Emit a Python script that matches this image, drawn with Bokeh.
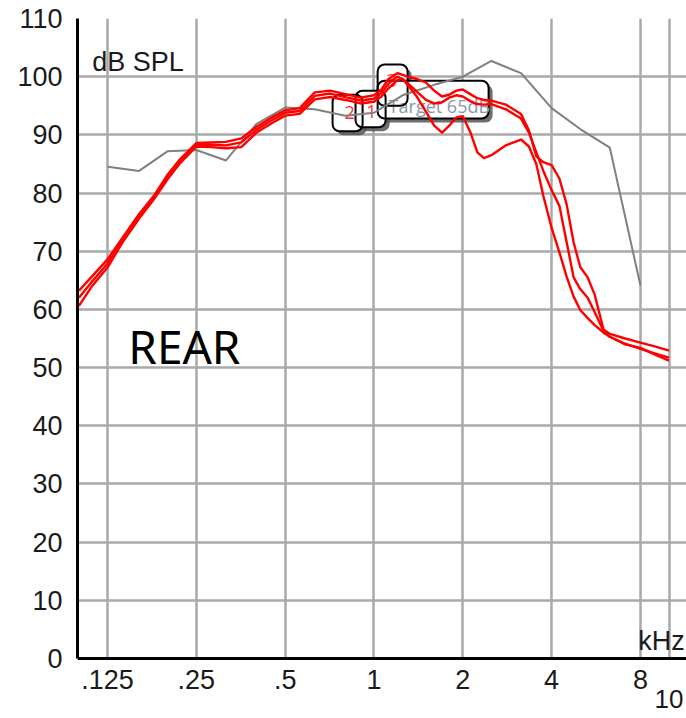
from bokeh.plotting import figure
from bokeh.models import FixedTicker, Label, BoxAnnotation, Range1d
from bokeh.embed import file_html
from bokeh.resources import INLINE

# ---------------- data ----------------
FREQ = [0.1, 0.11, 0.125, 0.14, 0.16, 0.18, 0.2, 0.22, 0.25, 0.28,
        0.315, 0.355, 0.4, 0.45, 0.5, 0.56, 0.63, 0.71, 0.8, 0.9,
        1.0, 1.06, 1.12, 1.2, 1.25, 1.32, 1.4, 1.5, 1.6, 1.7,
        1.8, 1.9, 2.0, 2.12, 2.24, 2.36, 2.5, 2.8, 3.15, 3.35,
        3.55, 3.75, 4.0, 4.25, 4.5, 4.75, 5.0, 5.3, 5.6, 6.0,
        6.3, 7.1, 8.0, 9.0, 10.0]

CURVE_1 = [63.2, 65.5, 68.6, 72.2, 76.4, 79.6, 83.2, 85.8, 88.6, 88.7,
           88.8, 89.4, 91.4, 93.0, 94.2, 94.6, 97.3, 97.6, 97.0, 96.4,
           96.8, 97.8, 99.6, 100.6, 100.3, 99.9, 99.6, 99.0, 97.6, 96.6,
           96.9, 97.6, 97.8, 97.0, 96.3, 96.0, 95.9, 95.2, 93.6, 90.8,
           86.3, 85.3, 84.8, 82.5, 78.0, 71.5, 67.3, 65.5, 62.5, 56.5,
           55.8, 55.0, 54.3, 53.6, 52.9]

CURVE_2 = [62.0, 64.6, 67.9, 71.8, 76.0, 79.3, 82.8, 85.5, 88.3, 88.3,
           88.2, 88.7, 90.9, 92.5, 93.8, 94.1, 96.7, 97.1, 96.5, 95.9,
           96.2, 97.2, 98.8, 100.0, 99.6, 98.6, 97.4, 96.0, 95.4, 95.6,
           96.4, 96.8, 96.6, 95.8, 95.3, 95.2, 95.3, 94.4, 92.8, 90.4,
           87.0, 83.8, 80.5, 77.8, 71.5, 65.5, 63.5, 62.0, 59.5, 56.3,
           55.3, 54.1, 53.2, 52.4, 51.7]

CURVE_3 = [60.6, 63.8, 67.2, 71.4, 75.6, 79.0, 82.4, 85.1, 88.0, 87.9,
           87.7, 87.9, 90.4, 92.0, 93.3, 93.6, 96.1, 96.5, 96.0, 95.4,
           95.7, 96.6, 98.0, 99.4, 99.6, 98.2, 96.5, 94.0, 91.6, 90.4,
           91.6, 93.0, 93.2, 90.5, 87.0, 86.0, 86.5, 88.2, 89.2, 88.0,
           85.0, 79.5, 74.0, 69.8, 65.6, 62.2, 59.9, 58.5, 57.3, 56.0,
           55.3, 54.0, 53.4, 52.2, 51.2]

TARGET_FREQ = [0.125, 0.16, 0.2, 0.25, 0.315, 0.4, 0.5, 0.63, 0.8, 1.0,
               1.25, 1.6, 2.0, 2.5, 3.15, 4.0, 5.0, 6.3, 8.0]
TARGET_DB = [84.5, 83.8, 87.2, 87.4, 85.6, 91.9, 94.7, 94.4, 93.3, 93.8,
             96.8, 98.6, 100.0, 102.7, 100.6, 94.6, 91.0, 87.8, 64.1]

X_TICKS = [0.125, 0.25, 0.5, 1, 2, 4, 8, 10]
X_TICK_LABELS = [".125", ".25", ".5", "1", "2", "4", "8", ""]
Y_TICKS = list(range(0, 111, 10))

# callout boxes: (text, colour, left, right, bottom, top, text_x, text_y)
CALLOUTS = [
    ("2", "#ff3030", 0.724, 0.915, 90.6, 96.9, 0.827, 93.8),
    ("1", "#ff3030", 0.866, 1.095, 91.3, 97.6, 0.981, 94.0),
    ("Target 65dB", "#8a96a8", 1.029, 2.446, 92.8, 99.3, 1.121, 95.0),
    ("3", "#ff3030", 1.029, 1.30, 95.0, 102.1, 1.147, 99.3),
]

# ---------------- figure ----------------
PX_OCT = 88.8
PX_DB = 5.818
Y_BOTTOM = -60 / PX_DB   # frame runs down to the canvas bottom; axis sits at 0 dB

p = figure(width=686, height=718, x_axis_type="log",
           x_range=Range1d(0.0989, 11.46), y_range=Range1d(Y_BOTTOM, 110),
           output_backend="svg", toolbar_location=None,
           min_border_left=77, min_border_right=0,
           min_border_top=18, min_border_bottom=0)
p.outline_line_color = None
p.background_fill_color = "white"
p.border_fill_color = "white"

FONT = "Liberation Sans"

xa = p.xaxis[0]
xa.ticker = FixedTicker(ticks=X_TICKS)
xa.major_label_overrides = {t: l for t, l in zip(X_TICKS, X_TICK_LABELS)}
xa.fixed_location = 0
ya = p.yaxis[0]
ya.ticker = FixedTicker(ticks=Y_TICKS)
ya.bounds = (0, 110)
for ax in (xa, ya):
    ax.axis_line_color = "black"
    ax.axis_line_width = 3
    ax.major_tick_line_color = None
    ax.minor_tick_line_color = None
    ax.major_tick_out = 0
    ax.major_tick_in = 0
    ax.major_label_text_font = FONT
    ax.major_label_text_font_size = "27px"
    ax.major_label_text_color = "#1a1a1a"
xa.major_label_standoff = 12
ya.major_label_standoff = 15

p.xgrid.ticker = FixedTicker(ticks=X_TICKS)
p.ygrid.ticker = FixedTicker(ticks=Y_TICKS)
for g in (p.xgrid[0], p.ygrid[0]):
    g.grid_line_color = "#a9a9a9"
    g.grid_line_width = 2.5

# white cover for the strip below the 0 dB axis (hides grid lines there)
p.add_layout(BoxAnnotation(top=0, fill_color="white", fill_alpha=1.0,
                           line_color=None, level="underlay"))

# callouts (under the curves, over the grid)
sx = 2 ** (4 / PX_OCT)
sy = 4 / PX_DB
for (_t, _c, l, r, b, t, _tx, _ty) in CALLOUTS:
    p.add_layout(BoxAnnotation(left=l * sx, right=r * sx, bottom=b - sy, top=t - sy,
                               fill_color="#555555", fill_alpha=0.85, line_color=None,
                               border_radius=7, level="underlay"))
for (_t, _c, l, r, b, t, _tx, _ty) in CALLOUTS:
    p.add_layout(BoxAnnotation(left=l, right=r, bottom=b, top=t,
                               fill_color="white", fill_alpha=1.0, line_color=None,
                               border_radius=7, level="underlay"))
for (txt, col, l, r, b, t, tx, ty) in CALLOUTS:
    p.add_layout(BoxAnnotation(left=l, right=r, bottom=b, top=t,
                               fill_color=None, fill_alpha=0, line_color="black",
                               line_alpha=1.0, line_width=2, border_radius=7,
                               level="underlay"))
    p.add_layout(Label(x=tx, y=ty, text=txt, text_color=col,
                       text_font="Open Sans", text_font_size="18px",
                       text_align="left" if len(txt) > 1 else "center",
                       text_baseline="alphabetic" if len(txt) > 1 else "middle",
                       level="underlay"))

# curves
p.line(TARGET_FREQ, TARGET_DB, line_color="#808080", line_width=2)
for c in (CURVE_1, CURVE_2, CURVE_3):
    p.line(FREQ, c, line_color="#ff0000", line_width=2.4, line_join="round")

# texts
p.add_layout(Label(x=0.111, y=102.5, text="dB SPL", text_font=FONT,
                   text_font_size="27px", text_color="#1a1a1a",
                   text_baseline="alphabetic", text_align="left"))
p.add_layout(Label(x=11.3, y=3.0, text="kHz", text_font=FONT,
                   text_font_size="27px", text_color="#1a1a1a",
                   text_baseline="alphabetic", text_align="right"))
p.add_layout(Label(x=0.147, y=53.75, text="REAR", text_font="Noto Sans",
                   text_font_size="46px", text_color="black",
                   text_baseline="alphabetic", text_align="left"))
p.add_layout(Label(x=10, y=-7.0, text="10", text_font=FONT,
                   text_font_size="26px", text_color="#1a1a1a",
                   text_baseline="alphabetic", text_align="center"))

open("out.html", "w").write(file_html(p, INLINE))
